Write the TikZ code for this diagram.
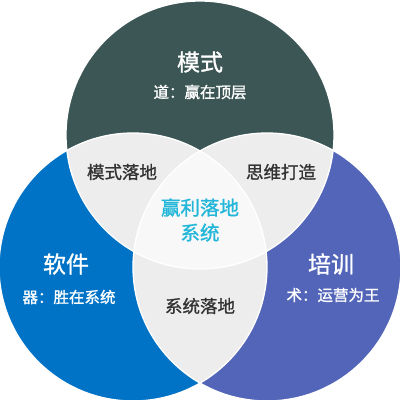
\documentclass[tikz,border=0pt]{standalone}
\usepackage{fontspec}
\setmainfont{Noto Sans CJK SC}
\newfontfamily\medfont{Noto Sans CJK SC}[FakeBold=1.2]
\definecolor{topc}{HTML}{3B5654}
\definecolor{leftc}{HTML}{0073C6}
\definecolor{rightc}{HTML}{5365B8}
\definecolor{grayc}{HTML}{EDEDED}
\definecolor{centc}{HTML}{F8F8F8}
\definecolor{darktxt}{HTML}{333333}
\definecolor{cyantxt}{HTML}{22B6D9}
\begin{document}
\begin{tikzpicture}[x=1pt,y=-1pt,
  title/.style={text=white,font=\medfont\fontsize{23}{25}\selectfont,inner sep=0pt},
  sub/.style={text=white,font=\medfont\fontsize{15.5}{17}\selectfont,inner sep=0pt},
  lens/.style={text=darktxt,font=\medfont\fontsize{17.5}{19}\selectfont,inner sep=0pt},
  centre/.style={text=cyantxt,font=\medfont\fontsize{19.5}{25}\selectfont,inner sep=0pt,align=center}]
\useasboundingbox (0,0) rectangle (400,400);
\def\cirT{(200,135) circle (134)}
\def\cirL{(133,267) circle (134)}
\def\cirR{(267,267) circle (134)}
\fill[topc] \cirT;
\fill[leftc] \cirL;
\fill[rightc] \cirR;
\begin{scope}
  \clip \cirL;
  \fill[grayc] \cirR;
\end{scope}
\begin{scope}
  \clip \cirT;
  \fill[grayc] \cirL;
  \fill[grayc] \cirR;
  \clip \cirL;
  \fill[centc] \cirR;
\end{scope}
\draw[white,line width=1.3pt] \cirT;
\draw[white,line width=1.3pt] \cirL;
\draw[white,line width=1.3pt] \cirR;
\node[title] (mt) at (200,62) {模式};
\node[sub] (ms) at (200,92) {道：赢在顶层};
\node[title] (lt) at (66,264) {软件};
\node[sub] (ls) at (69,297) {器：胜在系统};
\node[title] (rt) at (331,264) {培训};
\node[sub] (rs) at (333,295) {术：运营为王};
\node[lens] (a) at (122,172) {模式落地};
\node[lens] (b) at (281,172) {思维打造};
\node[lens] (c) at (200,306) {系统落地};
\node[centre] (d) at (200,220) {赢利落地\\系统};
\end{tikzpicture}
\end{document}
